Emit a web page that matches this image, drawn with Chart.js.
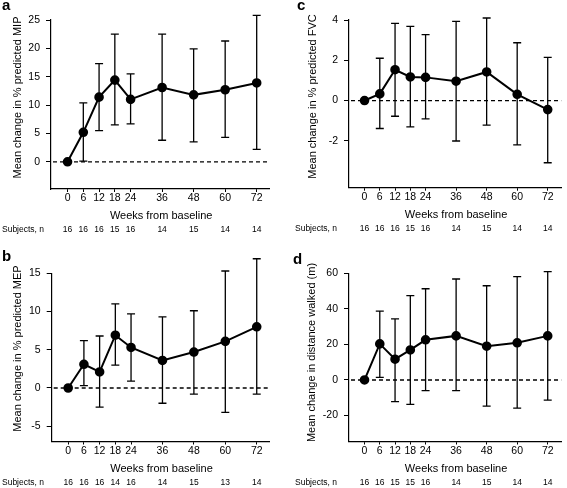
<!DOCTYPE html>
<html>
<head>
<meta charset="utf-8">
<script src="https://cdn.jsdelivr.net/npm/chart.js@4.4.1/dist/chart.umd.min.js"></script>
<style>
  html, body { margin: 0; padding: 0; background: #fff; }
  #wrap { position: relative; width: 567px; height: 488px; overflow: hidden; }
  canvas { position: absolute; }
</style>
</head>
<body>
<div id="wrap">
  <canvas id="cA" width="283" height="240" style="left:0;top:0"></canvas>
  <canvas id="cC" width="284" height="240" style="left:283px;top:0"></canvas>
  <canvas id="cB" width="283" height="248" style="left:0;top:240px"></canvas>
  <canvas id="cD" width="284" height="248" style="left:283px;top:240px"></canvas>
</div>
<script>
// ===== Datos =====
const WEEKS = [0, 6, 12, 18, 24, 36, 48, 60, 72];

// a: % predicted MIP
const MIP_MEAN = [0, 5.2, 11.4, 14.4, 11.0, 13.1, 11.8, 12.7, 13.9];
const MIP_HIGH = [null, 10.4, 17.3, 22.5, 15.5, 22.5, 19.9, 21.3, 25.8];
const MIP_LOW  = [null, 0.1, 5.5, 6.5, 6.7, 3.8, 3.5, 4.3, 2.2];
const MIP_N    = [16, 16, 16, 15, 16, 14, 15, 14, 14];
const MIP_TICKS = [0, 5, 10, 15, 20, 25];

// b: % predicted MEP
const MEP_MEAN = [0, 3.1, 2.1, 6.9, 5.3, 3.6, 4.7, 6.1, 8.0];
const MEP_HIGH = [null, 6.2, 6.8, 11.0, 9.7, 9.3, 10.1, 15.3, 16.9];
const MEP_LOW  = [null, 0.3, -2.5, 3.0, 0.9, -2.0, -0.8, -3.2, -0.8];
const MEP_N    = [16, 16, 16, 14, 16, 14, 15, 13, 14];
const MEP_TICKS = [-5, 0, 5, 10, 15];

// c: % predicted FVC
const FVC_MEAN = [0, 0.33, 1.53, 1.17, 1.15, 0.96, 1.42, 0.31, -0.45];
const FVC_HIGH = [null, 2.1, 3.83, 3.68, 3.27, 3.93, 4.1, 2.87, 2.14];
const FVC_LOW  = [null, -1.39, -0.78, -1.31, -0.91, -2.01, -1.22, -2.2, -3.09];
const FVC_N    = [16, 16, 16, 15, 16, 14, 15, 14, 14];
const FVC_TICKS = [-2, 0, 2, 4];

// d: distance walked (m)
const DIST_MEAN = [0, 20.3, 11.7, 16.9, 22.6, 24.8, 19.0, 20.9, 24.8];
const DIST_HIGH = [null, 38.7, 34.4, 47.4, 51.3, 56.8, 53.0, 58.1, 60.9];
const DIST_LOW  = [null, 1.5, -12.2, -13.7, -6.0, -6.0, -14.7, -15.8, -11.3];
const DIST_N    = [16, 16, 15, 15, 16, 14, 15, 14, 14];
const DIST_TICKS = [-20, 0, 20, 40, 60];

const FONT = '"Liberation Sans", Arial, Helvetica, sans-serif';

// ===== Panel =====
function makePanel(id, p) {
  const canvas = document.getElementById(id);
  const W = canvas.width, H = canvas.height;

  // línea cero, barras de error y textos
  const extras = {
    id: 'extras',
    beforeDatasetsDraw(chart) {
      const { ctx, chartArea: a } = chart;
      const xs = chart.scales.x, ys = chart.scales.y;
      ctx.save();
      ctx.strokeStyle = '#000';
      const y0 = ys.getPixelForValue(0);
      ctx.lineWidth = 1.3;
      ctx.setLineDash([4, 3]);
      ctx.beginPath();
      ctx.moveTo(a.left + 2, y0);
      ctx.lineTo(a.right, y0);
      ctx.stroke();
      ctx.setLineDash([]);
      ctx.lineWidth = 1.3;
      WEEKS.forEach((w, i) => {
        if (p.high[i] == null) return;
        const x = xs.getPixelForValue(w);
        const yh = ys.getPixelForValue(p.high[i]);
        const yl = ys.getPixelForValue(p.low[i]);
        ctx.beginPath();
        ctx.moveTo(x, yh); ctx.lineTo(x, yl);
        ctx.moveTo(x - 4, yh); ctx.lineTo(x + 4, yh);
        ctx.moveTo(x - 4, yl); ctx.lineTo(x + 4, yl);
        ctx.stroke();
      });
      ctx.restore();
    },
    afterDraw(chart) {
      const { ctx, chartArea: a } = chart;
      const xs = chart.scales.x;
      ctx.save();
      ctx.fillStyle = '#000';
      // letra del panel
      ctx.font = 'bold 15px ' + FONT;
      ctx.textAlign = 'left';
      ctx.textBaseline = 'alphabetic';
      ctx.fillText(p.tag, p.tagX, p.tagY);
      // título eje x
      ctx.font = '11px ' + FONT;
      ctx.textAlign = 'center';
      ctx.textBaseline = 'middle';
      ctx.fillText('Weeks from baseline', (a.left + a.right) / 2 + 1, a.bottom + 27);
      // fila de sujetos
      ctx.font = '8.5px ' + FONT;
      ctx.textAlign = 'left';
      ctx.fillText('Subjects, n', p.subjX, a.bottom + 41);
      ctx.textAlign = 'center';
      WEEKS.forEach((w, i) => {
        ctx.fillText(String(p.n[i]), xs.getPixelForValue(w), a.bottom + 41);
      });
      // título eje y
      ctx.font = '11px ' + FONT;
      ctx.translate(p.yTitleX, p.yTitleY);
      ctx.rotate(-Math.PI / 2);
      ctx.textAlign = 'center';
      ctx.fillText(p.yTitle, 0, 0);
      ctx.restore();
    }
  };

  return new Chart(canvas, {
    type: 'line',
    data: {
      datasets: [{
        data: WEEKS.map((w, i) => ({ x: w, y: p.mean[i] })),
        borderColor: '#000',
        backgroundColor: '#000',
        borderWidth: 2,
        pointRadius: 3.8,
        pointHoverRadius: 3.8,
        tension: 0,
        clip: false
      }]
    },
    options: {
      responsive: false,
      animation: false,
      events: [],
      layout: { padding: { top: p.area.top, right: W - p.area.right, bottom: 0, left: 0 } },
      plugins: { legend: { display: false }, tooltip: { enabled: false } },
      scales: {
        x: {
          type: 'linear',
          min: p.xMin, max: p.xMax,
          afterBuildTicks: (s) => { s.ticks = WEEKS.map(v => ({ value: v })); },
          afterFit: (s) => { s.height = H - p.area.bottom; },
          grid: { drawOnChartArea: false, drawTicks: true, tickLength: 3, color: '#000', lineWidth: 1 },
          border: { color: '#000', width: 1.2 },
          ticks: { color: '#000', font: { family: FONT, size: 10.5 }, padding: 0, maxRotation: 0, autoSkip: false }
        },
        y: {
          min: p.yMin, max: p.yMax,
          afterBuildTicks: (s) => { s.ticks = p.ticks.map(v => ({ value: v })); },
          afterFit: (s) => { s.width = p.area.left; },
          grid: { drawOnChartArea: false, drawTicks: true, tickLength: 5, color: '#000', lineWidth: 1 },
          border: { color: '#000', width: 1.2 },
          ticks: { color: '#000', font: { family: FONT, size: 10.5 }, padding: 6 }
        }
      }
    },
    plugins: [extras]
  });
}

makePanel('cA', {
  tag: 'a', tagX: 2, tagY: 10,
  mean: MIP_MEAN, high: MIP_HIGH, low: MIP_LOW, n: MIP_N, ticks: MIP_TICKS,
  area: { left: 51, top: 20, right: 269.3, bottom: 189 },
  xMin: -6.3, xMax: 76.8, yMin: -4.8, yMax: 25,
  yTitle: 'Mean change in % predicted MIP', yTitleX: 18, yTitleY: 97.5,
  subjX: 2
});
makePanel('cB', {
  tag: 'b', tagX: 2, tagY: 20.5,
  mean: MEP_MEAN, high: MEP_HIGH, low: MEP_LOW, n: MEP_N, ticks: MEP_TICKS,
  area: { left: 51.7, top: 33.3, right: 269.3, bottom: 201.5 },
  xMin: -6.3, xMax: 76.8, yMin: -7.0, yMax: 15,
  yTitle: 'Mean change in % predicted MEP', yTitleX: 18, yTitleY: 108.5,
  subjX: 2
});
makePanel('cC', {
  tag: 'c', tagX: 14, tagY: 10,
  mean: FVC_MEAN, high: FVC_HIGH, low: FVC_LOW, n: FVC_N, ticks: FVC_TICKS,
  area: { left: 66, top: 20, right: 284, bottom: 187.7 },
  xMin: -6.1, xMax: 77.3, yMin: -4.33, yMax: 4,
  yTitle: 'Mean change in % predicted FVC', yTitleX: 30, yTitleY: 96.5,
  subjX: 12
});
makePanel('cD', {
  tag: 'd', tagX: 10, tagY: 24,
  mean: DIST_MEAN, high: DIST_HIGH, low: DIST_LOW, n: DIST_N, ticks: DIST_TICKS,
  area: { left: 66, top: 33.3, right: 284, bottom: 201.5 },
  xMin: -6.1, xMax: 77.3, yMin: -34.6, yMax: 60,
  yTitle: 'Mean change in distance walked (m)', yTitleX: 29, yTitleY: 112.5,
  subjX: 12
});
</script>
</body>
</html>
